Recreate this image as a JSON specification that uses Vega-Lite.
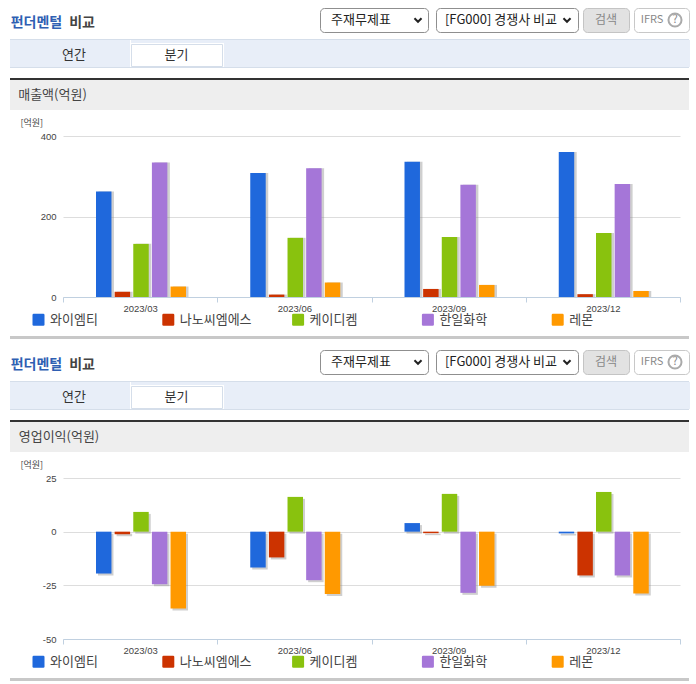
{"$schema":"https://vega.github.io/schema/vega-lite/v6.json","padding":0,"background":"white","spacing":0,"config":{"view":{"stroke":null},"concat":{"spacing":0},"font":"Noto Sans CJK KR","text":{"font":"Noto Sans CJK KR"}},
"datasets":{"revenue":[
{"period":"2023/03","company":"와이엠티","value":262},{"period":"2023/03","company":"나노씨엠에스","value":13},{"period":"2023/03","company":"케이디켐","value":132},{"period":"2023/03","company":"한일화학","value":334},{"period":"2023/03","company":"레몬","value":26},
{"period":"2023/06","company":"와이엠티","value":308},{"period":"2023/06","company":"나노씨엠에스","value":6},{"period":"2023/06","company":"케이디켐","value":147},{"period":"2023/06","company":"한일화학","value":320},{"period":"2023/06","company":"레몬","value":36},
{"period":"2023/09","company":"와이엠티","value":336},{"period":"2023/09","company":"나노씨엠에스","value":20},{"period":"2023/09","company":"케이디켐","value":149},{"period":"2023/09","company":"한일화학","value":279},{"period":"2023/09","company":"레몬","value":30},
{"period":"2023/12","company":"와이엠티","value":360},{"period":"2023/12","company":"나노씨엠에스","value":7},{"period":"2023/12","company":"케이디켐","value":159},{"period":"2023/12","company":"한일화학","value":281},{"period":"2023/12","company":"레몬","value":15}],
"profit":[
{"period":"2023/03","company":"와이엠티","value":-19.5},{"period":"2023/03","company":"나노씨엠에스","value":-1.2},{"period":"2023/03","company":"케이디켐","value":9.2},{"period":"2023/03","company":"한일화학","value":-24.5},{"period":"2023/03","company":"레몬","value":-35.8},
{"period":"2023/06","company":"와이엠티","value":-16.7},{"period":"2023/06","company":"나노씨엠에스","value":-12},{"period":"2023/06","company":"케이디켐","value":16.2},{"period":"2023/06","company":"한일화학","value":-22.6},{"period":"2023/06","company":"레몬","value":-29},
{"period":"2023/09","company":"와이엠티","value":4},{"period":"2023/09","company":"나노씨엠에스","value":-0.7},{"period":"2023/09","company":"케이디켐","value":17.6},{"period":"2023/09","company":"한일화학","value":-28.5},{"period":"2023/09","company":"레몬","value":-25.2},
{"period":"2023/12","company":"와이엠티","value":-0.8},{"period":"2023/12","company":"나노씨엠에스","value":-20.4},{"period":"2023/12","company":"케이디켐","value":18.5},{"period":"2023/12","company":"한일화학","value":-20.4},{"period":"2023/12","company":"레몬","value":-28.8}]},
"vconcat":[
{"width":696,"height":7,"data":{"values":[{}]},"mark":{"type":"rect","opacity":0}},
{"hconcat":[
{"width":10,"height":24,"data":{"values":[{}]},"mark":{"type":"rect","opacity":0}},
{"width":53,"height":24,"data":{"values":[{"t":"펀더멘털"}]},"mark":{"type":"text","fontSize":14,"fontWeight":"bold","color":"#2f5fb3","dy":3},"encoding":{"text":{"field":"t"}}},
{"width":6,"height":24,"data":{"values":[{}]},"mark":{"type":"rect","opacity":0}},
{"width":26,"height":24,"data":{"values":[{"t":"비교"}]},"mark":{"type":"text","fontSize":14,"fontWeight":"bold","color":"#444444","dy":3},"encoding":{"text":{"field":"t"}}},
{"width":224,"height":24,"data":{"values":[{}]},"mark":{"type":"rect","opacity":0}},
{"width":108,"height":24,"view":{"fill":"white","stroke":"#8f8f8f","cornerRadius":4},"data":{"values":[{"t":"주재무제표"},{"t":"v"}]},"encoding":{"x":{"field":"t","type":"nominal","sort":null,"axis":null,"scale":{"type":"point","padding":0,"range":[41,98]}}},"layer":[{"transform":[{"filter":"datum.t!='v'"}],"mark":{"type":"text","fontSize":13,"color":"#222222"},"encoding":{"text":{"field":"t"}}},{"transform":[{"filter":"datum.t=='v'"}],"mark":{"type":"point","shape":"M-1,-0.5L0,0.5L1,-0.5","filled":false,"size":50,"strokeWidth":2,"opacity":1,"color":"#222222"}}]},
{"width":6,"height":24,"data":{"values":[{}]},"mark":{"type":"rect","opacity":0}},
{"width":142,"height":24,"view":{"fill":"white","stroke":"#8f8f8f","cornerRadius":4},"data":{"values":[{"t":"[FG000] 경쟁사 비교"},{"t":"v"}]},"encoding":{"x":{"field":"t","type":"nominal","sort":null,"axis":null,"scale":{"type":"point","padding":0,"range":[65,131]}}},"layer":[{"transform":[{"filter":"datum.t!='v'"}],"mark":{"type":"text","fontSize":13,"color":"#222222"},"encoding":{"text":{"field":"t"}}},{"transform":[{"filter":"datum.t=='v'"}],"mark":{"type":"point","shape":"M-1,-0.5L0,0.5L1,-0.5","filled":false,"size":50,"strokeWidth":2,"opacity":1,"color":"#222222"}}]},
{"width":3,"height":24,"data":{"values":[{}]},"mark":{"type":"rect","opacity":0}},
{"width":46,"height":24,"view":{"fill":"#e2e2e2","stroke":"#c4c4c4","cornerRadius":4},"data":{"values":[{"t":"검색"}]},"mark":{"type":"text","fontSize":12,"color":"#888888"},"encoding":{"text":{"field":"t"}}},
{"width":3,"height":24,"data":{"values":[{}]},"mark":{"type":"rect","opacity":0}},
{"width":55,"height":24,"view":{"fill":"white","stroke":"#c8c8c8","cornerRadius":4},"data":{"values":[{"t":"IFRS"},{"t":"?"}]},"encoding":{"x":{"field":"t","type":"nominal","sort":null,"axis":null,"scale":{"type":"point","padding":0,"range":[18,41]}}},"layer":[{"mark":{"type":"text","fontSize":11,"color":"#888888"},"encoding":{"text":{"field":"t"}}},{"transform":[{"filter":"datum.t=='?'"}],"mark":{"type":"point","shape":"circle","filled":false,"size":170,"opacity":1,"color":"#aaaaaa"}}]}
],"spacing":0},
{"width":696,"height":6,"data":{"values":[{}]},"mark":{"type":"rect","opacity":0}},
{"hconcat":[
{"width":10,"height":29,"data":{"values":[{}]},"mark":{"type":"rect","opacity":0}},
{"vconcat":[
{"width":679,"height":1,"view":{"fill":"#d5deea"},"data":{"values":[{}]},"mark":{"type":"rect","opacity":0}},
{"hconcat":[
{"width":120,"height":27,"view":{"fill":"#e8eef8"},"data":{"values":[{"t":"연간"}]},"mark":{"type":"text","fontSize":13,"color":"#333333","dy":1,"dx":4},"encoding":{"text":{"field":"t"}}},
{"vconcat":[
{"width":93,"height":3,"view":{"fill":"#e8eef8"},"data":{"values":[{}]},"mark":{"type":"rect","opacity":0}},
{"width":91,"height":22,"view":{"fill":"white","stroke":"#d5deea"},"data":{"values":[{"t":"분기"}]},"mark":{"type":"text","fontSize":13,"color":"#333333"},"encoding":{"text":{"field":"t"}}}
],"spacing":0},
{"width":466,"height":27,"view":{"fill":"#e8eef8"},"data":{"values":[{}]},"mark":{"type":"rect","opacity":0}}
],"spacing":0},
{"width":679,"height":1,"view":{"fill":"#d5deea"},"data":{"values":[{}]},"mark":{"type":"rect","opacity":0}}
],"spacing":0}
],"spacing":0},
{"width":696,"height":10,"data":{"values":[{}]},"mark":{"type":"rect","opacity":0}},
{"hconcat":[
{"width":10,"height":32,"data":{"values":[{}]},"mark":{"type":"rect","opacity":0}},
{"vconcat":[
{"width":679,"height":2,"view":{"fill":"#333333"},"data":{"values":[{}]},"mark":{"type":"rect","opacity":0}},
{"hconcat":[
{"width":85,"height":30,"view":{"fill":"#eeeeee"},"data":{"values":[{"t":"매출액(억원)"}]},"mark":{"type":"text","fontSize":13,"color":"#444444"},"encoding":{"text":{"field":"t"}}},
{"width":594,"height":30,"view":{"fill":"#eeeeee"},"data":{"values":[{}]},"mark":{"type":"rect","opacity":0}}
],"spacing":0}
],"spacing":0}
],"spacing":0},
{"width":696,"height":8,"data":{"values":[{}]},"mark":{"type":"rect","opacity":0}},
{"hconcat":[
{"width":20,"height":1,"data":{"values":[{}]},"mark":{"type":"rect","opacity":0}},
{"width":617,"height":161,"data":{"name":"revenue"},
"encoding":{
"x":{"field":"period","type":"nominal","title":null,"scale":{"paddingInner":0,"paddingOuter":0},"axis":{"labelAngle":0,"labelFont":"Liberation Sans","labelFontSize":9.5,"labelColor":"#444444","labelPadding":1,"tickBand":"extent","tickColor":"#c0d0e0","domainColor":"#c0d0e0","tickSize":5,"grid":false}},
"y":{"field":"value","type":"quantitative","title":"[억원]","scale":{"domain":[0,400],"nice":false},"axis":{"values":[0,200,400],"gridColor":"#dddddd","ticks":false,"domain":false,"labelFont":"Liberation Sans","labelFontSize":9.5,"labelColor":"#444444","labelPadding":7,"titleAngle":0,"titleFontSize":9,"titleFontWeight":"normal","titleColor":"#444444","titleAlign":"left","titleX":-43,"titleY":-9}}},
"layer":[
{"mark":{"type":"bar","color":"#888888","opacity":0.4},"encoding":{"xOffset":{"field":"company","type":"nominal","sort":["와이엠티","나노씨엠에스","케이디켐","한일화학","레몬"],"scale":{"paddingInner":0.17,"paddingOuter":0,"range":[35.5,125.5]}}}},
{"mark":{"type":"bar"},"encoding":{"xOffset":{"field":"company","type":"nominal","sort":["와이엠티","나노씨엠에스","케이디켐","한일화학","레몬"],"scale":{"paddingInner":0.17,"paddingOuter":0,"range":[33,123]}},"color":{"field":"company","type":"nominal","scale":{"domain":["와이엠티","나노씨엠에스","케이디켐","한일화학","레몬"],"range":["#1f68dc","#cc3300","#89c20e","#a576d8","#ff9900"]},"legend":{"title":null,"orient":"none","legendX":32,"legendY":177,"direction":"horizontal","columns":5,"gridAlign":"all","symbolType":"M-0.8,-1H0.8Q1,-1 1,-0.8V0.8Q1,1 0.8,1H-0.8Q-1,1 -1,0.8V-0.8Q-1,-1 -0.8,-1Z","symbolSize":144,"symbolStrokeWidth":0,"symbolOpacity":1,"labelFontSize":13,"labelColor":"#444444","labelOffset":5,"columnPadding":39.8}}}}
],"resolve":{"scale":{"xOffset":"independent"}}}
],"spacing":0},
{"width":696,"height":9,"data":{"values":[{}]},"mark":{"type":"rect","opacity":0}},
{"hconcat":[
{"width":10,"height":3,"data":{"values":[{}]},"mark":{"type":"rect","opacity":0}},
{"width":679,"height":3,"view":{"fill":"#c8c8c8"},"data":{"values":[{}]},"mark":{"type":"rect","opacity":0}}
],"spacing":0},
{"width":696,"height":3,"data":{"values":[{}]},"mark":{"type":"rect","opacity":0}},
{"width":696,"height":7,"data":{"values":[{}]},"mark":{"type":"rect","opacity":0}},
{"hconcat":[
{"width":10,"height":24,"data":{"values":[{}]},"mark":{"type":"rect","opacity":0}},
{"width":53,"height":24,"data":{"values":[{"t":"펀더멘털"}]},"mark":{"type":"text","fontSize":14,"fontWeight":"bold","color":"#2f5fb3","dy":3},"encoding":{"text":{"field":"t"}}},
{"width":6,"height":24,"data":{"values":[{}]},"mark":{"type":"rect","opacity":0}},
{"width":26,"height":24,"data":{"values":[{"t":"비교"}]},"mark":{"type":"text","fontSize":14,"fontWeight":"bold","color":"#444444","dy":3},"encoding":{"text":{"field":"t"}}},
{"width":224,"height":24,"data":{"values":[{}]},"mark":{"type":"rect","opacity":0}},
{"width":108,"height":24,"view":{"fill":"white","stroke":"#8f8f8f","cornerRadius":4},"data":{"values":[{"t":"주재무제표"},{"t":"v"}]},"encoding":{"x":{"field":"t","type":"nominal","sort":null,"axis":null,"scale":{"type":"point","padding":0,"range":[41,98]}}},"layer":[{"transform":[{"filter":"datum.t!='v'"}],"mark":{"type":"text","fontSize":13,"color":"#222222"},"encoding":{"text":{"field":"t"}}},{"transform":[{"filter":"datum.t=='v'"}],"mark":{"type":"point","shape":"M-1,-0.5L0,0.5L1,-0.5","filled":false,"size":50,"strokeWidth":2,"opacity":1,"color":"#222222"}}]},
{"width":6,"height":24,"data":{"values":[{}]},"mark":{"type":"rect","opacity":0}},
{"width":142,"height":24,"view":{"fill":"white","stroke":"#8f8f8f","cornerRadius":4},"data":{"values":[{"t":"[FG000] 경쟁사 비교"},{"t":"v"}]},"encoding":{"x":{"field":"t","type":"nominal","sort":null,"axis":null,"scale":{"type":"point","padding":0,"range":[65,131]}}},"layer":[{"transform":[{"filter":"datum.t!='v'"}],"mark":{"type":"text","fontSize":13,"color":"#222222"},"encoding":{"text":{"field":"t"}}},{"transform":[{"filter":"datum.t=='v'"}],"mark":{"type":"point","shape":"M-1,-0.5L0,0.5L1,-0.5","filled":false,"size":50,"strokeWidth":2,"opacity":1,"color":"#222222"}}]},
{"width":3,"height":24,"data":{"values":[{}]},"mark":{"type":"rect","opacity":0}},
{"width":46,"height":24,"view":{"fill":"#e2e2e2","stroke":"#c4c4c4","cornerRadius":4},"data":{"values":[{"t":"검색"}]},"mark":{"type":"text","fontSize":12,"color":"#888888"},"encoding":{"text":{"field":"t"}}},
{"width":3,"height":24,"data":{"values":[{}]},"mark":{"type":"rect","opacity":0}},
{"width":55,"height":24,"view":{"fill":"white","stroke":"#c8c8c8","cornerRadius":4},"data":{"values":[{"t":"IFRS"},{"t":"?"}]},"encoding":{"x":{"field":"t","type":"nominal","sort":null,"axis":null,"scale":{"type":"point","padding":0,"range":[18,41]}}},"layer":[{"mark":{"type":"text","fontSize":11,"color":"#888888"},"encoding":{"text":{"field":"t"}}},{"transform":[{"filter":"datum.t=='?'"}],"mark":{"type":"point","shape":"circle","filled":false,"size":170,"opacity":1,"color":"#aaaaaa"}}]}
],"spacing":0},
{"width":696,"height":6,"data":{"values":[{}]},"mark":{"type":"rect","opacity":0}},
{"hconcat":[
{"width":10,"height":29,"data":{"values":[{}]},"mark":{"type":"rect","opacity":0}},
{"vconcat":[
{"width":679,"height":1,"view":{"fill":"#d5deea"},"data":{"values":[{}]},"mark":{"type":"rect","opacity":0}},
{"hconcat":[
{"width":120,"height":27,"view":{"fill":"#e8eef8"},"data":{"values":[{"t":"연간"}]},"mark":{"type":"text","fontSize":13,"color":"#333333","dy":1,"dx":4},"encoding":{"text":{"field":"t"}}},
{"vconcat":[
{"width":93,"height":3,"view":{"fill":"#e8eef8"},"data":{"values":[{}]},"mark":{"type":"rect","opacity":0}},
{"width":91,"height":22,"view":{"fill":"white","stroke":"#d5deea"},"data":{"values":[{"t":"분기"}]},"mark":{"type":"text","fontSize":13,"color":"#333333"},"encoding":{"text":{"field":"t"}}}
],"spacing":0},
{"width":466,"height":27,"view":{"fill":"#e8eef8"},"data":{"values":[{}]},"mark":{"type":"rect","opacity":0}}
],"spacing":0},
{"width":679,"height":1,"view":{"fill":"#d5deea"},"data":{"values":[{}]},"mark":{"type":"rect","opacity":0}}
],"spacing":0}
],"spacing":0},
{"width":696,"height":10,"data":{"values":[{}]},"mark":{"type":"rect","opacity":0}},
{"hconcat":[
{"width":10,"height":32,"data":{"values":[{}]},"mark":{"type":"rect","opacity":0}},
{"vconcat":[
{"width":679,"height":2,"view":{"fill":"#333333"},"data":{"values":[{}]},"mark":{"type":"rect","opacity":0}},
{"hconcat":[
{"width":98,"height":30,"view":{"fill":"#eeeeee"},"data":{"values":[{"t":"영업이익(억원)"}]},"mark":{"type":"text","fontSize":13,"color":"#444444"},"encoding":{"text":{"field":"t"}}},
{"width":581,"height":30,"view":{"fill":"#eeeeee"},"data":{"values":[{}]},"mark":{"type":"rect","opacity":0}}
],"spacing":0}
],"spacing":0}
],"spacing":0},
{"width":696,"height":8,"data":{"values":[{}]},"mark":{"type":"rect","opacity":0}},
{"hconcat":[
{"width":20,"height":1,"data":{"values":[{}]},"mark":{"type":"rect","opacity":0}},
{"width":617,"height":161,"data":{"name":"profit"},
"encoding":{
"x":{"field":"period","type":"nominal","title":null,"scale":{"paddingInner":0,"paddingOuter":0},"axis":{"labelAngle":0,"labelFont":"Liberation Sans","labelFontSize":9.5,"labelColor":"#444444","labelPadding":1,"tickBand":"extent","tickColor":"#c0d0e0","domainColor":"#c0d0e0","tickSize":5,"grid":false}},
"y":{"field":"value","type":"quantitative","title":"[억원]","scale":{"domain":[-50,25],"nice":false},"axis":{"values":[-50,-25,0,25],"labelExpr":"replace(datum.label,'−','-')","gridColor":"#dddddd","ticks":false,"domain":false,"labelFont":"Liberation Sans","labelFontSize":9.5,"labelColor":"#444444","labelPadding":7,"titleAngle":0,"titleFontSize":9,"titleFontWeight":"normal","titleColor":"#444444","titleAlign":"left","titleX":-43,"titleY":-9}}},
"layer":[
{"mark":{"type":"bar","color":"#888888","opacity":0.4,"yOffset":2},"encoding":{"xOffset":{"field":"company","type":"nominal","sort":["와이엠티","나노씨엠에스","케이디켐","한일화학","레몬"],"scale":{"paddingInner":0.17,"paddingOuter":0,"range":[35,125]}}}},
{"mark":{"type":"bar"},"encoding":{"xOffset":{"field":"company","type":"nominal","sort":["와이엠티","나노씨엠에스","케이디켐","한일화학","레몬"],"scale":{"paddingInner":0.17,"paddingOuter":0,"range":[33,123]}},"color":{"field":"company","type":"nominal","scale":{"domain":["와이엠티","나노씨엠에스","케이디켐","한일화학","레몬"],"range":["#1f68dc","#cc3300","#89c20e","#a576d8","#ff9900"]},"legend":{"title":null,"orient":"none","legendX":32,"legendY":177,"direction":"horizontal","columns":5,"gridAlign":"all","symbolType":"M-0.8,-1H0.8Q1,-1 1,-0.8V0.8Q1,1 0.8,1H-0.8Q-1,1 -1,0.8V-0.8Q-1,-1 -0.8,-1Z","symbolSize":144,"symbolStrokeWidth":0,"symbolOpacity":1,"labelFontSize":13,"labelColor":"#444444","labelOffset":5,"columnPadding":39.8}}}}
],"resolve":{"scale":{"xOffset":"independent"}}}
],"spacing":0},
{"width":696,"height":9,"data":{"values":[{}]},"mark":{"type":"rect","opacity":0}},
{"hconcat":[
{"width":10,"height":3,"data":{"values":[{}]},"mark":{"type":"rect","opacity":0}},
{"width":679,"height":3,"view":{"fill":"#c8c8c8"},"data":{"values":[{}]},"mark":{"type":"rect","opacity":0}}
],"spacing":0},
{"width":696,"height":3,"data":{"values":[{}]},"mark":{"type":"rect","opacity":0}}
],"resolve":{"scale":{"color":"independent","x":"independent","y":"independent","xOffset":"independent"}}}
